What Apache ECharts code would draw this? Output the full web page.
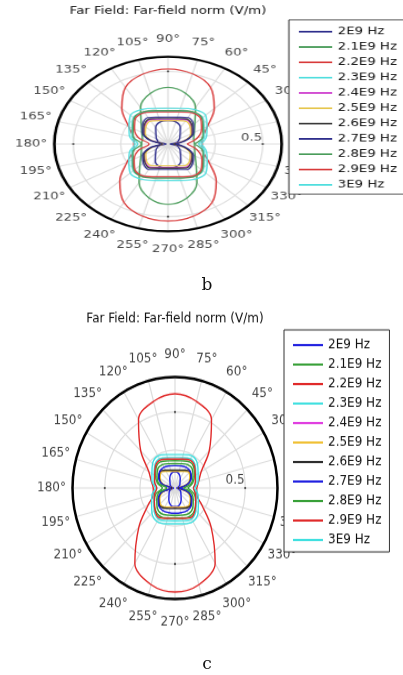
<!DOCTYPE html>
<html><head><meta charset="utf-8">
<script src="https://cdn.jsdelivr.net/npm/echarts@6/dist/echarts.min.js"></script>
<style>
html,body{margin:0;padding:0;background:#fff;width:403px;height:675px;overflow:hidden;position:relative}
.pc{position:absolute;width:400px;height:350px}
</style></head>
<body>
<div id="bg" style="position:absolute;left:0;top:0;width:403px;height:675px"></div>
<div id="chartB" class="pc"></div>
<div id="chartC" class="pc"></div>
<script>
// ---------- data ----------
const angles = [0,15,30,45,60,75,90,105,120,135,150,165,180,195,210,225,240,255,270,285,300,315,330,345,360];
const angleTickValues = [0,15,30,45,60,75,90,105,120,135,150,165,180,195,210,225,240,255,270,285,300,315,330,345];
const angleTickLabels = ['0°','15°','30°','45°','60°','75°','90°','105°','120°','135°','150°','165°','180°','195°','210°','225°','240°','255°','270°','285°','300°','315°','330°','345°'];
const ringLabelValue = 0.5;
const frequencies = ['2E9 Hz','2.1E9 Hz','2.2E9 Hz','2.3E9 Hz','2.4E9 Hz','2.5E9 Hz','2.6E9 Hz','2.7E9 Hz','2.8E9 Hz','2.9E9 Hz','3E9 Hz'];
const titleText = 'Far Field: Far-field norm (V/m)';

// panel b (radius axis max 0.6)
const bMax = 0.6;
const b2E9   = [0.01,0.05,0.07,0.09,0.13,0.158,0.16,0.158,0.13,0.09,0.07,0.05,0.01, 0.05,0.072,0.093,0.135,0.163,0.166,0.163,0.135,0.093,0.072,0.05, 0.01];
const b2_1E9 = [0.14,0.14,0.16,0.2,0.29,0.36,0.39,0.36,0.29,0.2,0.16,0.14,0.14, 0.145,0.165,0.21,0.305,0.385,0.415,0.385,0.305,0.21,0.165,0.145, 0.14];
const b2_2E9 = [0.18,0.19,0.24,0.345,0.45,0.5,0.516,0.5,0.45,0.345,0.24,0.19,0.18, 0.19,0.25,0.36,0.465,0.515,0.53,0.515,0.465,0.36,0.25,0.19, 0.18];
const b2_3E9 = [0.16,0.197,0.219,0.258,0.252,0.233,0.225,0.233,0.252,0.258,0.219,0.197,0.16, 0.197,0.22,0.26,0.258,0.238,0.23,0.238,0.258,0.26,0.22,0.197, 0.16];
const b2_4E9 = [0.03,0.092,0.144,0.173,0.192,0.176,0.17,0.176,0.192,0.173,0.144,0.092,0.03, 0.09,0.142,0.17,0.185,0.166,0.16,0.166,0.185,0.17,0.142,0.09, 0.03];
const b2_5E9 = [0.03,0.09,0.139,0.166,0.182,0.166,0.16,0.166,0.182,0.166,0.139,0.09,0.03, 0.088,0.136,0.162,0.173,0.155,0.15,0.155,0.173,0.162,0.136,0.088, 0.03];
const b2_6E9 = [0.03,0.095,0.15,0.18,0.198,0.181,0.175,0.181,0.198,0.18,0.15,0.095,0.03, 0.093,0.148,0.175,0.19,0.171,0.165,0.171,0.19,0.175,0.148,0.093, 0.03];
const b2_7E9 = [0.04,0.1,0.156,0.19,0.21,0.191,0.185,0.191,0.21,0.19,0.156,0.1,0.04, 0.1,0.155,0.185,0.202,0.181,0.175,0.181,0.202,0.185,0.155,0.1, 0.04];
const b2_8E9 = [0.14,0.19,0.214,0.253,0.258,0.238,0.23,0.238,0.258,0.253,0.214,0.19,0.14, 0.19,0.215,0.255,0.263,0.243,0.235,0.243,0.263,0.255,0.215,0.19, 0.14];
const b2_9E9 = [0.1,0.16,0.205,0.245,0.248,0.228,0.22,0.228,0.248,0.245,0.205,0.16,0.1, 0.16,0.207,0.248,0.255,0.233,0.225,0.233,0.255,0.248,0.207,0.16, 0.1];
const b3E9   = [0.175,0.21,0.237,0.28,0.275,0.254,0.245,0.254,0.275,0.28,0.237,0.21,0.175, 0.21,0.238,0.282,0.28,0.259,0.25,0.259,0.28,0.282,0.238,0.21, 0.175];

// panel c (radius axis max 0.73)
const cMax = 0.73;
const c2E9   = [0.01,0.025,0.04,0.05,0.075,0.1,0.107,0.1,0.075,0.05,0.04,0.025,0.01, 0.03,0.047,0.06,0.088,0.117,0.123,0.117,0.088,0.06,0.047,0.03, 0.01];
const c2_1E9 = [0.09,0.13,0.16,0.19,0.2,0.185,0.18,0.185,0.2,0.19,0.16,0.13,0.09, 0.14,0.17,0.2,0.215,0.205,0.195,0.205,0.215,0.2,0.17,0.14, 0.09];
const c2_2E9 = [0.155,0.175,0.215,0.345,0.52,0.59,0.62,0.59,0.52,0.345,0.215,0.175,0.155, 0.16,0.22,0.364,0.572,0.658,0.684,0.658,0.572,0.364,0.22,0.16, 0.155];
const c2_3E9 = [0.13,0.155,0.172,0.205,0.222,0.207,0.2,0.207,0.222,0.205,0.172,0.155,0.13, 0.155,0.175,0.21,0.235,0.222,0.215,0.222,0.235,0.21,0.175,0.155, 0.13];
const c2_4E9 = [0.02,0.087,0.127,0.148,0.133,0.119,0.115,0.119,0.133,0.148,0.127,0.087,0.02, 0.087,0.13,0.153,0.148,0.135,0.13,0.135,0.148,0.153,0.13,0.087, 0.02];
const c2_5E9 = [0.02,0.085,0.122,0.142,0.127,0.114,0.11,0.114,0.127,0.142,0.122,0.085,0.02, 0.085,0.125,0.148,0.145,0.131,0.127,0.131,0.145,0.148,0.125,0.085, 0.02];
const c2_6E9 = [0.02,0.09,0.13,0.152,0.136,0.122,0.118,0.122,0.136,0.152,0.13,0.09,0.02, 0.09,0.133,0.158,0.152,0.139,0.134,0.139,0.152,0.158,0.133,0.09, 0.02];
const c2_7E9 = [0.03,0.09,0.135,0.155,0.158,0.15,0.147,0.15,0.158,0.155,0.135,0.09,0.03, 0.095,0.14,0.165,0.172,0.168,0.166,0.168,0.172,0.165,0.14,0.095, 0.03];
const c2_8E9 = [0.06,0.12,0.148,0.175,0.178,0.165,0.16,0.165,0.178,0.175,0.148,0.12,0.06, 0.12,0.15,0.18,0.195,0.185,0.18,0.185,0.195,0.18,0.15,0.12, 0.06];
const c2_9E9 = [0.13,0.15,0.167,0.198,0.212,0.197,0.19,0.197,0.212,0.198,0.167,0.15,0.13, 0.15,0.17,0.202,0.225,0.207,0.2,0.207,0.225,0.202,0.17,0.15, 0.13];
const c3E9   = [0.14,0.17,0.19,0.226,0.244,0.228,0.22,0.228,0.244,0.226,0.19,0.17,0.14, 0.17,0.192,0.232,0.255,0.243,0.235,0.243,0.255,0.232,0.192,0.17, 0.14];

const bSeries = [b2E9,b2_1E9,b2_2E9,b2_3E9,b2_4E9,b2_5E9,b2_6E9,b2_7E9,b2_8E9,b2_9E9,b3E9];
const cSeries = [c2E9,c2_1E9,c2_2E9,c2_3E9,c2_4E9,c2_5E9,c2_6E9,c2_7E9,c2_8E9,c2_9E9,c3E9];

// ---------- styles / layout ----------
const bColors = ['#2e2e8c','#4a9c5a','#d83a3a','#50dede','#d044d0','#e6c64c','#3a3a3a','#2e2e8c','#4a9c5a','#d83a3a','#50dede'];
const cColors = ['#2020e0','#38a038','#e02a2a','#40e0e0','#e040e0','#f0c034','#2e2e2e','#2020e0','#38a038','#e02a2a','#40e0e0'];
const CX = 175, CY = 180, R0 = 102.5;
const LABEL_FACTOR = 1.205;
const FONT = 'DejaVu Sans';
const TEXT = '#111';

function buildOption(seriesData, colors, rMax) {
  const lines = seriesData.map((vals, i) => ({
    type: 'line', name: frequencies[i], coordinateSystem: 'polar',
    data: vals.map((r, k) => [r, angles[k]]),
    symbol: 'none', smooth: 0.35, silent: true,
    lineStyle: { color: colors[i], width: 1.4 },
    itemStyle: { color: colors[i] },
    z: 3
  }));
  lines.push({
    type: 'scatter', coordinateSystem: 'polar', clip: false, silent: true,
    symbolSize: 1, itemStyle: { color: 'rgba(0,0,0,0)' },
    data: angleTickValues.map(a => [rMax * LABEL_FACTOR, a]),
    label: { show: true, position: 'inside', formatter: p => angleTickLabels[p.dataIndex],
      fontFamily: FONT, fontSize: 12, color: TEXT },
    z: 2
  });
  lines.push({
    type: 'scatter', coordinateSystem: 'polar', clip: false, silent: true,
    symbolSize: 1, itemStyle: { color: 'rgba(0,0,0,0)' },
    data: [[ringLabelValue, 0]],
    label: { show: true, position: 'left', distance: 0, offset: [0, -7],
      formatter: String(ringLabelValue), fontFamily: FONT, fontSize: 12, color: TEXT },
    z: 2
  });
  lines.push({
    type: 'scatter', coordinateSystem: 'polar', silent: true,
    symbol: 'circle', symbolSize: 2.2, itemStyle: { color: '#222' },
    data: [0, 90, 180, 270].map(a => [ringLabelValue, a]), z: 2
  });
  return {
    animation: false,
    title: { text: titleText, left: CX, top: CY - 162, textAlign: 'center', padding: 0,
      textStyle: { fontFamily: FONT, fontSize: 12, fontWeight: 'normal', color: TEXT } },
    legend: {
      data: frequencies, orient: 'vertical', left: CX + 109, top: CY - 146,
      padding: [8, 8, 5, 9], itemWidth: 30, itemHeight: 12, itemGap: 6,
      backgroundColor: '#fff', borderColor: '#333', borderWidth: 1, borderRadius: 0,
      icon: 'path://M0,5 L30,5 L30,7 L0,7 Z',
      textStyle: { fontFamily: FONT, fontSize: 12, color: TEXT },
      selectedMode: false, z: 10
    },
    polar: { center: [CX, CY], radius: R0 },
    angleAxis: {
      type: 'value', min: 0, max: 360, interval: 15, startAngle: 0, clockwise: false,
      axisLine: { lineStyle: { color: '#000', width: 2.5 } },
      axisTick: { show: false }, axisLabel: { show: false },
      splitLine: { lineStyle: { color: '#dcdcdc', width: 1.2 } }
    },
    radiusAxis: {
      type: 'value', min: 0, max: rMax, interval: 0.25,
      axisLine: { show: false }, axisTick: { show: false }, axisLabel: { show: false },
      splitLine: { lineStyle: { color: ['#dcdcdc', '#dcdcdc', '#dcdcdc', '#000'], width: 1.2 } }
    },
    series: lines
  };
}

function place(id, cx, cy, sx, sy) {
  const el = document.getElementById(id);
  el.style.left = (cx - CX) + 'px';
  el.style.top = (cy - CY) + 'px';
  el.style.transformOrigin = CX + 'px ' + CY + 'px';
  el.style.transform = 'scale(' + sx + ',' + sy + ')';
}
place('chartB', 167.7, 144.3, 1.109, 0.851);
place('chartC', 175, 488, 1.0, 1.083);

const bg = echarts.init(document.getElementById('bg'), null, { renderer: 'canvas' });
bg.setOption({
  animation: false,
  title: [
    { text: 'b', left: 207, top: 277, textAlign: 'center', padding: 0,
      textStyle: { fontFamily: 'DejaVu Serif', fontSize: 17, fontWeight: 'normal', color: '#111' } },
    { text: 'c', left: 207, top: 656, textAlign: 'center', padding: 0,
      textStyle: { fontFamily: 'DejaVu Serif', fontSize: 17, fontWeight: 'normal', color: '#111' } }
  ]
});
const chB = echarts.init(document.getElementById('chartB'), null, { renderer: 'canvas' });
chB.setOption(buildOption(bSeries, bColors, bMax));
const chC = echarts.init(document.getElementById('chartC'), null, { renderer: 'canvas' });
chC.setOption(buildOption(cSeries, cColors, cMax));
</script>
</body></html>
